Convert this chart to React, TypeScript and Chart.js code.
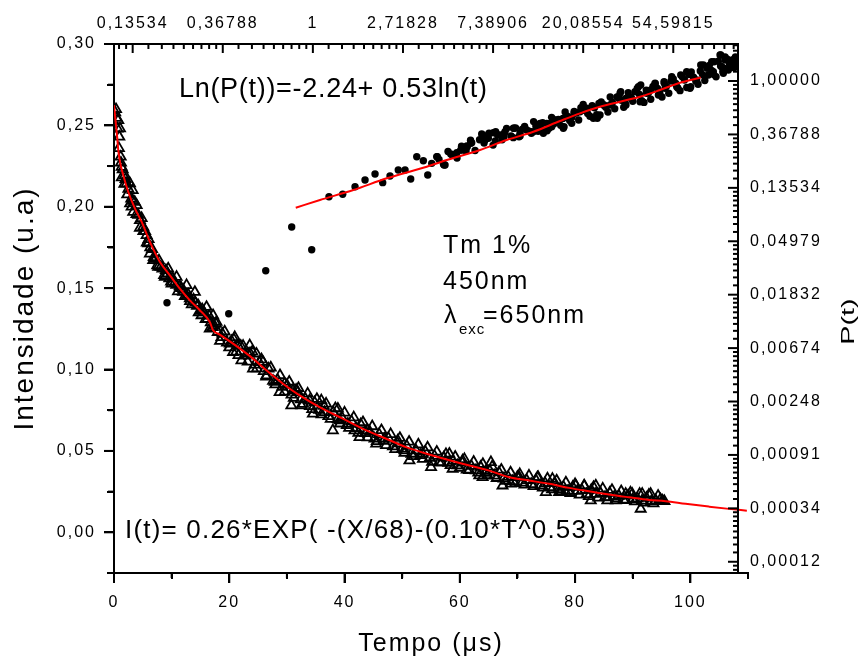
import React, { useEffect, useRef } from 'react';
import { Chart, registerables } from 'chart.js';

Chart.register(...registerables);

const FONT = "'Liberation Sans', Arial, Helvetica, sans-serif";

// ---------- axis ranges ----------
const timeMin = 0;
const timeMax = 110;
const intensityMin = -0.025;
const intensityMax = 0.3;
const lnTimeMin = Math.log(0.11);
const lnTimeMax = Math.log(112);
const lnPMin = Math.log(1e-4);
const lnPMax = Math.log(2);

// ---------- tick labels ----------
const xTickValues = [0, 20, 40, 60, 80, 100];
const xTickLabels = ['0', '20', '40', '60', '80', '100'];
const yTickValues = [0, 0.05, 0.1, 0.15, 0.2, 0.25, 0.3];
const yTickLabels = ['0,00', '0,05', '0,10', '0,15', '0,20', '0,25', '0,30'];
const topTickExps = [-2, -1, 0, 1, 2, 3, 4];
const topTickLabels = ['0,13534', '0,36788', '1', '2,71828', '7,38906', '20,08554', '54,59815'];
const rightTickExps = [0, -1, -2, -3, -4, -5, -6, -7, -8, -9];
const rightTickLabels = ['1,00000', '0,36788', '0,13534', '0,04979', '0,01832', '0,00674', '0,00248', '0,00091', '0,00034', '0,00012'];

// ---------- decay: fitted curve I(t) ----------
const decayFit: [number, number][] = [
  [0, 0.2624], [0.57, 0.242], [0.74, 0.2349], [1.04, 0.2276], [1.61, 0.2194], [2.48, 0.2091], [3.64, 0.1989],
  [4.8, 0.1907], [6.23, 0.1784], [7.97, 0.1661], [9.7, 0.1579], [11.43, 0.1497], [13.16, 0.1425], [14.89, 0.1364],
  [16.62, 0.1292], [17.19, 0.1241], [18.35, 0.1215], [20.66, 0.1159], [24.12, 0.1067], [26.44, 0.0995], [29.32, 0.0913],
  [32.21, 0.0841], [35.67, 0.0769], [39.71, 0.0698], [43.77, 0.0626], [47.22, 0.0575], [50.68, 0.0523], [55.29, 0.0472],
  [61.65, 0.041], [65.11, 0.0379], [68.57, 0.0338], [72.03, 0.0318], [75.5, 0.0298], [78.96, 0.0273], [82.42, 0.0252],
  [85.89, 0.0232], [89.35, 0.0215], [92.81, 0.0199], [95.7, 0.0191], [99.17, 0.0175], [103.2, 0.0158], [106.7, 0.0144],
  [109.8, 0.0133],
];

// ---------- decay: measured points (open triangles) ----------
const decayPoints: [number, number][] = [
  [0.35, 0.2599], [0.74, 0.2532], [1.04, 0.2481], [0.92, 0.243], [1.16, 0.2307], [1.33, 0.2245], [1.9, 0.2194],
  [2.2, 0.2143], [2.77, 0.2143], [3.24, 0.2102], [3.06, 0.2], [3.93, 0.201], [3.34, 0.1968], [4.5, 0.1917],
  [5.07, 0.1876], [5.66, 0.1825], [5.94, 0.1774], [6.23, 0.1712], [6.8, 0.1671], [7.67, 0.163], [9.4, 0.162],
  [8.83, 0.1569], [10.86, 0.1569], [9.99, 0.1528], [12.59, 0.1518], [12.0, 0.1476], [14.03, 0.1476], [13.16, 0.1436],
  [14.6, 0.1395], [16.05, 0.1384], [15.19, 0.1333], [17.19, 0.1333], [17.78, 0.1292], [16.62, 0.1251],
  [18.65, 0.1199], [20.95, 0.1199], [20.09, 0.1159], [21.52, 0.1148], [20.66, 0.1107], [22.11, 0.1056], [23.55, 0.1148],
  [23.26, 0.1097], [24.71, 0.1097], [24.12, 0.1005], [25.85, 0.1046], [26.44, 0.0964], [27.88, 0.0923], [29.61, 0.0913],
  [28.74, 0.0861], [31.05, 0.0872], [31.91, 0.0861], [30.77, 0.0779], [32.5, 0.0779], [33.94, 0.081], [34.51, 0.0728],
  [35.97, 0.081], [36.54, 0.0738], [37.97, 0.0626], [38.84, 0.0759], [39.13, 0.0687], [40.57, 0.0667], [41.73, 0.0626],
  [42.6, 0.0584], [44.03, 0.0626], [45.49, 0.0544], [46.93, 0.0574], [49.23, 0.0564], [50.39, 0.0503], [51.26, 0.0441],
  [53.56, 0.0482], [55.01, 0.04], [58.18, 0.0482], [58.75, 0.039], [60.48, 0.0441], [63.38, 0.0349], [64.54, 0.0369],
  [65.4, 0.0431], [63.95, 0.0338], [67.41, 0.0287], [68.87, 0.0298], [70.3, 0.0338], [73.47, 0.0338], [74.93, 0.0246],
  [76.07, 0.0328], [77.23, 0.0246], [78.39, 0.0246], [80.12, 0.0287], [81.56, 0.0287], [82.72, 0.0195], [83.59, 0.0287],
  [85.59, 0.0195], [87.05, 0.0195], [88.78, 0.0236], [89.92, 0.0236], [91.65, 0.0236], [91.38, 0.0144], [93.11, 0.0236],
  [95.11, 0.0195],
  [0.2, 0.258], [0.6, 0.248], [1.2, 0.227], [1.5, 0.223], [2.0, 0.217], [2.5, 0.211], [3.0, 0.205], [3.6, 0.203],
  [4.2, 0.195], [4.8, 0.193], [5.4, 0.185], [6.0, 0.18], [6.6, 0.174], [7.2, 0.168], [7.8, 0.167], [8.4, 0.162],
  [9.0, 0.161], [9.6, 0.156], [10.2, 0.156], [10.8, 0.152], [11.4, 0.151], [12.0, 0.149], [12.6, 0.145], [13.2, 0.142],
  [13.8, 0.143], [14.4, 0.139], [15.0, 0.136], [15.6, 0.135], [16.2, 0.131], [16.8, 0.129], [17.4, 0.127], [18.0, 0.123],
  [0.45, 0.2545], [0.85, 0.236], [1.35, 0.218], [1.8, 0.214], [2.3, 0.2075], [2.8, 0.202], [3.3, 0.2035], [3.9, 0.1955],
  [4.5, 0.187], [5.1, 0.185], [5.7, 0.178], [6.3, 0.175], [6.9, 0.169], [7.5, 0.164], [8.1, 0.163], [8.7, 0.158],
  [9.3, 0.159], [9.9, 0.154], [10.5, 0.153], [11.1, 0.148], [11.7, 0.15], [12.3, 0.145], [12.9, 0.146], [13.5, 0.14],
  [14.1, 0.141], [14.7, 0.135], [15.3, 0.137], [15.9, 0.131], [16.5, 0.133], [17.1, 0.126], [17.7, 0.128],
  [18.8, 0.122], [19.6, 0.1165], [20.4, 0.1175], [21.2, 0.111], [22.0, 0.1145], [22.8, 0.1085], [23.6, 0.11], [24.4, 0.103],
  [25.2, 0.1045], [26.0, 0.099], [26.8, 0.1005], [27.6, 0.093], [28.4, 0.0935], [29.2, 0.0893], [30.0, 0.0905], [30.8, 0.0845],
  [31.6, 0.0875], [32.4, 0.0816], [33.2, 0.082], [34.0, 0.0775], [34.8, 0.0798], [35.6, 0.0751], [36.4, 0.0777], [37.2, 0.0713],
  [38.0, 0.0739], [38.8, 0.0695], [39.6, 0.0702], [40.4, 0.0658], [41.2, 0.0683], [42.0, 0.0639], [42.8, 0.0664], [43.6, 0.0609],
  [44.4, 0.0617], [45.2, 0.0575], [46.0, 0.0603], [46.8, 0.0561], [47.6, 0.0579], [48.4, 0.0527], [49.2, 0.0546], [50.0, 0.0513],
  [50.8, 0.0531], [51.6, 0.0482], [52.4, 0.0503], [53.2, 0.0474], [54.0, 0.0496], [54.8, 0.0457], [55.6, 0.0469], [56.4, 0.0431],
  [57.2, 0.0459], [58.0, 0.0426], [58.8, 0.0438], [59.6, 0.041], [60.4, 0.0428], [61.2, 0.0385], [62.0, 0.0407], [62.8, 0.038],
  [63.6, 0.0402], [64.4, 0.0365], [65.2, 0.0378], [66.0, 0.0348], [66.8, 0.0368], [67.6, 0.0329], [68.4, 0.034], [69.2, 0.0314],
  [70.0, 0.034], [70.8, 0.0305], [71.6, 0.032], [72.4, 0.0296], [73.2, 0.0321], [74.0, 0.0287], [74.8, 0.0302], [75.6, 0.0277],
  [76.4, 0.0301], [77.2, 0.0265], [78.0, 0.0279], [78.8, 0.0254], [79.6, 0.0279], [80.4, 0.0254], [81.2, 0.0259], [82.0, 0.0234],
  [82.8, 0.026], [83.6, 0.0235], [84.4, 0.0241], [85.2, 0.0216], [86.0, 0.0242], [86.8, 0.0218], [87.6, 0.0224], [88.4, 0.02],
  [89.2, 0.0226], [90.0, 0.0202], [90.8, 0.0208], [91.6, 0.0194], [92.4, 0.0211], [93.2, 0.0189], [94.0, 0.0196], [94.8, 0.0203],
  [95.5, 0.0191],
  [18.4, 0.1175], [19.2, 0.1233], [20.0, 0.1135], [20.8, 0.1185], [21.6, 0.1088], [22.4, 0.1145], [23.2, 0.1048], [24.0, 0.111],
  [24.8, 0.1007], [25.6, 0.1062], [26.4, 0.0956], [27.2, 0.1012], [28.0, 0.0908], [28.8, 0.0965], [29.6, 0.0863], [30.4, 0.0925],
  [31.2, 0.0825], [32.0, 0.0886], [32.8, 0.0788], [33.6, 0.0852], [34.4, 0.0756], [35.2, 0.0819], [36.0, 0.0724], [36.8, 0.079],
  [37.6, 0.0696], [38.4, 0.0762], [39.2, 0.0668], [40.0, 0.0735], [40.8, 0.0641], [41.6, 0.0706], [42.4, 0.0611], [43.2, 0.0676],
  [44.0, 0.0583], [44.8, 0.0651], [45.6, 0.0559], [46.4, 0.0627], [47.2, 0.0535], [48.0, 0.0603], [48.8, 0.0511], [49.6, 0.0579],
  [50.4, 0.0487], [51.2, 0.0556], [52.0, 0.0468], [52.8, 0.0539], [53.6, 0.045], [54.4, 0.0521], [55.2, 0.0433], [56.0, 0.0495],
  [56.8, 0.0427], [57.6, 0.048], [58.4, 0.0412], [59.2, 0.0464], [60.0, 0.0396], [60.8, 0.0449], [61.6, 0.0381], [62.4, 0.0433],
  [63.2, 0.0366], [64.0, 0.0419], [64.8, 0.0351], [65.6, 0.0403], [66.4, 0.0333], [67.2, 0.0384], [68.0, 0.0315], [68.8, 0.0367],
  [69.6, 0.0302], [70.4, 0.0357], [71.2, 0.0292], [72.0, 0.0348], [72.8, 0.0283], [73.6, 0.0339], [74.4, 0.0274], [75.2, 0.033],
  [76.0, 0.0264], [76.8, 0.0318], [77.6, 0.0252], [78.4, 0.0306], [79.2, 0.0241], [80.0, 0.0296], [80.8, 0.0231], [81.6, 0.0286],
  [82.4, 0.0222], [83.2, 0.0277], [84.0, 0.0213], [84.8, 0.0268], [85.6, 0.0214], [86.4, 0.026], [87.2, 0.0206], [88.0, 0.0252],
  [88.8, 0.0198], [89.6, 0.0244], [90.4, 0.019], [91.2, 0.0236], [92.0, 0.0182], [92.8, 0.023], [93.6, 0.0177], [94.4, 0.0224],
  [95.2, 0.0192],
];

// ---------- P(t): linear fit in (ln t, ln P) ----------
const pFit: [number, number][] = [
  [-0.19, -2.372], [0.079, -2.228], [0.449, -2.04], [0.82, -1.821], [1.264, -1.604], [1.486, -1.479], [1.855, -1.292],
  [2.151, -1.104], [2.447, -0.949], [2.743, -0.749], [2.965, -0.605], [3.187, -0.481], [3.409, -0.387], [3.631, -0.294],
  [3.853, -0.168], [4.075, -0.032], [4.305, 0.066],
];

// ---------- P(t): points in (ln t, ln P) ----------
const pPoints: [number, number][] = [
  [-1.619, -4.15], [-0.934, -4.356], [-0.523, -3.551], [-0.235, -2.733], [-0.013, -3.158], [0.179, -2.166], [0.331, -2.121],
  [0.468, -1.979], [0.579, -1.853], [0.69, -1.741], [0.775, -1.903], [0.856, -1.778], [0.948, -1.666], [1.023, -1.666],
  [1.086, -1.835], [1.153, -1.417], [1.226, -1.492], [1.275, -1.76], [1.319, -1.541], [1.375, -1.417], [1.467, -1.572],
  [1.53, -1.367], [1.597, -1.342], [1.652, -1.292], [1.708, -1.217], [1.763, -1.155], [1.874, -0.992], [1.911, -1.104],
  [2.003, -0.968], [1.948, -1.073], [2.077, -1.011], [2.133, -0.949], [2.225, -0.885], [2.299, -0.979], [2.373, -0.917],
  [2.447, -0.949], [2.521, -0.792], [2.558, -0.979], [2.651, -0.855], [2.707, -0.762],
  [2.595, -0.792], [2.688, -0.73], [2.78, -0.885], [2.873, -0.792], [2.965, -0.575], [3.039, -0.511], [3.113, -0.698],
  [3.187, -0.636], [3.298, -0.449], [3.409, -0.23], [3.465, -0.387], [3.539, -0.324], [3.613, -0.107], [3.631, -0.387],
  [3.705, -0.23], [3.798, -0.043], [3.835, -0.262], [3.909, -0.137], [3.983, 0.08], [4.038, -0.107], [4.149, 0.174],
  [4.186, -0.137], [4.26, 0.019], [4.334, 0.3], [4.39, 0.112], [4.427, 0.361], [4.445, 0.174], [4.519, 0.487],
  [4.538, 0.268], [4.556, 0.144], [4.575, 0.393], [4.612, 0.206],
  [1.381, -1.417], [1.456, -1.572], [1.548, -1.385], [1.641, -1.292], [1.714, -1.23], [1.752, -1.166], [1.881, -1.011],
  [1.955, -0.979], [2.029, -0.949], [2.121, -1.043], [2.233, -0.885], [2.288, -1.043], [2.418, -0.949], [2.529, -0.824],
  [2.621, -0.885], [2.676, -0.73], [2.788, -0.855], [2.899, -0.605], [2.991, -0.543], [3.157, -0.698], [3.231, -0.449],
  [3.417, -0.2], [3.472, -0.324], [3.639, -0.075], [3.75, -0.168], [3.898, -0.013], [4.083, 0.112], [4.194, -0.107],
  [4.305, 0.3], [4.452, 0.361], [4.527, 0.487], [4.563, 0.238],
  [1.4, -1.47], [1.45, -1.56], [1.5, -1.32], [1.55, -1.38], [1.6, -1.44], [1.65, -1.22], [1.7, -1.31], [1.75, -1.11],
  [1.8, -1.3], [1.85, -1.1], [1.9, -1.16], [1.95, -1.0], [2.0, -1.2], [2.05, -1.01], [2.1, -1.1], [2.15, -0.89],
  [2.2, -1.03], [2.25, -0.88], [2.3, -1.03], [2.35, -0.85], [2.4, -0.94], [2.45, -0.76], [2.5, -0.94], [2.55, -0.78],
  [2.6, -0.93], [2.65, -0.68], [2.7, -0.75], [2.75, -0.83], [2.8, -0.58], [2.85, -0.74], [2.9, -0.57], [2.95, -0.73],
  [3.0, -0.44], [3.05, -0.61], [3.1, -0.46], [3.15, -0.63], [3.2, -0.39], [3.25, -0.49], [3.3, -0.3], [3.35, -0.52],
  [3.4, -0.33], [3.45, -0.49], [3.5, -0.22], [3.55, -0.38], [3.6, -0.14], [3.65, -0.37], [3.7, -0.17], [3.75, -0.34],
  [3.8, -0.05], [3.85, -0.22], [3.9, -0.04], [3.95, -0.23], [4.0, 0.04], [4.05, -0.13], [4.1, 0.08], [4.15, -0.12],
  [4.2, 0.17], [4.25, 0.0], [4.3, 0.19], [4.35, 0.01], [4.4, 0.29], [4.45, 0.12], [4.5, 0.37], [4.55, 0.18],
  [4.6, 0.41], [4.63, 0.28], [4.66, 0.4], [4.7, 0.33],
  [2.525, -0.86], [2.625, -0.8], [2.725, -0.72], [2.825, -0.66], [2.925, -0.6],
  [3.025, -0.55], [3.125, -0.5], [3.225, -0.45], [3.325, -0.4], [3.425, -0.36], [3.525, -0.3], [3.625, -0.25],
  [3.725, -0.22], [3.825, -0.14], [3.925, -0.1], [4.025, -0.04], [4.125, 0.02], [4.225, 0.07], [4.325, 0.12],
  [4.425, 0.2], [4.525, 0.28], [4.625, 0.32],
  [2.975, -0.5], [3.075, -0.66], [3.175, -0.42], [3.275, -0.58], [3.375, -0.3], [3.475, -0.45], [3.575, -0.2],
  [3.675, -0.4], [3.775, -0.1], [3.875, -0.3], [3.975, 0.0], [4.075, -0.18], [4.175, 0.12], [4.275, -0.06],
  [4.375, 0.24], [4.475, 0.08], [4.575, 0.45], [4.675, 0.25], [4.69, 0.45],
  [2.025, -1.12], [2.125, -0.98], [2.225, -1.06], [2.325, -0.9], [2.425, -0.98], [2.475, -0.84], [2.575, -0.92],
  [2.675, -0.8], [2.775, -0.7], [2.875, -0.68],
];

// ---------- helpers ----------
function labelFor(v: number, values: number[], labels: string[]): string {
  for (let i = 0; i < values.length; i++) {
    if (Math.abs(values[i] - v) < 1e-6) return labels[i];
  }
  return '';
}

// e-based log axis: majors at integer ln values, 8 minors (linear subdivisions) between
function eTicks(min: number, max: number): number[] {
  const out: number[] = [];
  for (let k = Math.floor(min) - 1; k <= Math.ceil(max); k++) {
    for (let i = 0; i < 9; i++) {
      const v = k + Math.log(1 + (i * (Math.E - 1)) / 9);
      if (v >= min - 1e-9 && v <= max + 1e-9) out.push(v);
    }
  }
  return out;
}

function stepTicks(min: number, max: number, step: number): number[] {
  const out: number[] = [];
  const n = Math.round((max - min) / step);
  for (let i = 0; i <= n; i++) out.push(min + i * step);
  return out;
}

const isMultiple = (v: number, step: number) => Math.abs(v / step - Math.round(v / step)) < 1e-6;

// Tick marks drawn as Chart.js 'dash' points sitting on the axis line,
// rotated to point outward (decay axes) or inward (P(t) axes).
function tickMarks(points: { x: number; y: number }[], rotation: number, key: 'x' | 'y', step: number, major: number, minor: number) {
  return {
    data: points,
    showLine: false,
    clip: false,
    pointStyle: 'dash',
    pointRotation: rotation,
    pointRadius: (c: any) => (c && c.raw && isMultiple(c.raw[key], step) ? major : minor),
    pointBorderWidth: 2,
    pointBorderColor: '#000',
    pointBackgroundColor: '#000',
    borderColor: '#000',
    borderWidth: 2,
  } as any;
}

// Chart.js native outward tick marks (minor ones shortened by a dash pattern)
function tickDash(step: number, minorDash: number[]) {
  return (c: any) => {
    if (!c || !c.tick) return [];
    return isMultiple(c.tick.value, step) ? [] : minorDash;
  };
}

function outwardGrid(step: number, minorDash: number[]) {
  return {
    display: true,
    drawOnChartArea: false,
    drawTicks: true,
    tickLength: 10,
    tickWidth: 2,
    tickColor: '#000',
    lineWidth: 2,
    color: 'rgba(0,0,0,0)',
    tickBorderDash: tickDash(step, minorDash),
  };
}

function drawLabel(ctx: any, text: string, x: number, y: number, size: number, spacing: number) {
  ctx.font = `${size}px ${FONT}`;
  ctx.letterSpacing = `${spacing}px`;
  ctx.fillText(text, x, y);
}

const spacing = {
  beforeUpdate(chart: any) { chart.ctx.letterSpacing = '2px'; },
  beforeLayout(chart: any) { chart.ctx.letterSpacing = '2px'; },
  beforeDraw(chart: any) { chart.ctx.letterSpacing = '2px'; },
};

const decayDecor = { id: 'decayDecor', ...spacing };

const probDecor = {
  id: 'probDecor',
  ...spacing,
  afterDraw(chart: any) {
    const ctx = chart.ctx;
    ctx.save();
    ctx.fillStyle = '#000';
    ctx.textAlign = 'left';
    ctx.textBaseline = 'alphabetic';
    drawLabel(ctx, 'Ln(P(t))=-2.24+ 0.53ln(t)', 179, 97, 27, 0.7);
    drawLabel(ctx, 'I(t)= 0.26*EXP( -(X/68)-(0.10*T^0.53))', 125, 538, 26, 1.2);
    drawLabel(ctx, 'Tm 1%', 443, 253, 25, 2);
    drawLabel(ctx, '450nm', 443, 289, 25, 2);
    drawLabel(ctx, 'λ', 444, 323, 25, 0);
    drawLabel(ctx, 'exc', 459, 334, 15, 1);
    drawLabel(ctx, '=650nm', 483, 323, 25, 2);
    // right axis title, reading bottom-to-top
    ctx.translate(849, 321.5);
    ctx.rotate(-Math.PI / 2);
    ctx.scale(1.6, 1);
    ctx.textAlign = 'center';
    ctx.textBaseline = 'middle';
    ctx.font = `18px ${FONT}`;
    ctx.letterSpacing = '0px';
    ctx.fillText('P(t)', 0, 0);
    ctx.restore();
  },
};

const tickFont = { family: FONT, size: 16 };

export default function App() {
  const decayRef = useRef<HTMLCanvasElement | null>(null);
  const probRef = useRef<HTMLCanvasElement | null>(null);

  useEffect(() => {
    if (!decayRef.current || !probRef.current) return;

    const decayChart = new Chart(decayRef.current, {
      type: 'scatter',
      data: {
        datasets: [
          {
            data: decayFit.map(([x, y]) => ({ x, y })),
            showLine: true,
            borderColor: '#ff0000',
            borderWidth: 2,
            pointRadius: 0,
            cubicInterpolationMode: 'monotone',
            fill: false,
          } as any,
          {
            data: decayPoints.map(([x, y]) => ({ x, y })),
            showLine: false,
            pointStyle: 'triangle',
            pointRadius: 5.8,
            borderColor: '#000',
            backgroundColor: 'rgba(0,0,0,0)',
            borderWidth: 1.8,
          } as any,
          tickMarks(stepTicks(timeMin, timeMax, 10).map((v) => ({ x: v, y: intensityMin })), 90, 'x', 20, 10, 5),
          tickMarks(stepTicks(intensityMin, intensityMax, 0.025).map((v) => ({ x: timeMin, y: v })), 180, 'y', 0.05, 10, 6),
        ],
      },
      options: {
        responsive: false,
        animation: false,
        devicePixelRatio: 1,
        events: [],
        layout: { padding: { left: 0, top: 44, right: 120, bottom: 0 } },
        plugins: { legend: { display: false }, tooltip: { enabled: false } },
        scales: {
          x: {
            type: 'linear',
            position: 'bottom',
            min: timeMin,
            max: timeMax,
            grid: outwardGrid(20, [5, 100]),
            border: { display: true, color: '#000', width: 2 },
            ticks: {
              stepSize: 10,
              autoSkip: false,
              maxRotation: 0,
              minRotation: 0,
              padding: 10,
              color: '#000',
              font: tickFont,
              callback: (v: any) => labelFor(Number(v), xTickValues, xTickLabels),
            },
            title: {
              display: true,
              text: 'Tempo (μs)',
              color: '#000',
              font: { family: FONT, size: 25 },
              padding: { top: 0, bottom: 2 },
            },
            afterFit: (s: any) => { s.height = 88; },
          },
          y: {
            type: 'linear',
            position: 'left',
            min: intensityMin,
            max: intensityMax,
            grid: outwardGrid(0.05, [0, 3, 6, 100]),
            border: { display: true, color: '#000', width: 2 },
            ticks: {
              stepSize: 0.025,
              autoSkip: false,
              padding: 8,
              color: '#000',
              font: tickFont,
              callback: (v: any) => labelFor(Number(v), yTickValues, yTickLabels),
            },
            title: {
              display: true,
              text: 'Intensidade (u.a)',
              color: '#000',
              font: { family: FONT, size: 28 },
              padding: { top: 8, bottom: 0 },
            },
            afterFit: (s: any) => { s.width = 114; },
          },
        },
      } as any,
      plugins: [decayDecor],
    });

    const probChart = new Chart(probRef.current, {
      type: 'scatter',
      data: {
        datasets: [
          {
            data: pFit.map(([x, y]) => ({ x, y })),
            showLine: true,
            borderColor: '#ff0000',
            borderWidth: 2,
            pointRadius: 0,
            cubicInterpolationMode: 'monotone',
            fill: false,
          } as any,
          {
            data: pPoints.map(([x, y]) => ({ x, y })),
            showLine: false,
            pointStyle: 'circle',
            pointRadius: 3.7,
            borderWidth: 0,
            backgroundColor: '#000',
            borderColor: '#000',
          } as any,
          tickMarks(eTicks(lnTimeMin, lnTimeMax).map((v) => ({ x: v, y: lnPMax })), 90, 'x', 1, 9, 5),
          tickMarks(eTicks(lnPMin, lnPMax).map((v) => ({ x: lnTimeMax, y: v })), 180, 'y', 1, 10, 5),
        ],
      },
      options: {
        responsive: false,
        animation: false,
        devicePixelRatio: 1,
        events: [],
        layout: { padding: { left: 114, top: 0, right: 0, bottom: 88 } },
        plugins: { legend: { display: false }, tooltip: { enabled: false } },
        scales: {
          x: {
            type: 'linear',
            position: 'top',
            min: lnTimeMin,
            max: lnTimeMax,
            afterBuildTicks: (s: any) => { s.ticks = eTicks(lnTimeMin, lnTimeMax).map((value) => ({ value })); },
            grid: { display: false, drawTicks: false },
            border: { display: true, color: '#000', width: 2 },
            ticks: {
              autoSkip: false,
              maxRotation: 0,
              minRotation: 0,
              padding: 10.5,
              color: '#000',
              font: tickFont,
              callback: (v: any) => labelFor(Number(v), topTickExps, topTickLabels),
            },
            afterFit: (s: any) => { s.height = 44; },
          },
          y: {
            type: 'linear',
            position: 'right',
            min: lnPMin,
            max: lnPMax,
            afterBuildTicks: (s: any) => { s.ticks = eTicks(lnPMin, lnPMax).map((value) => ({ value })); },
            grid: { display: false, drawTicks: false },
            border: { display: true, color: '#000', width: 2 },
            ticks: {
              autoSkip: false,
              padding: 12,
              color: '#000',
              font: tickFont,
              callback: (v: any) => labelFor(Number(v), rightTickExps, rightTickLabels),
            },
            afterFit: (s: any) => { s.width = 130; },
          },
        },
      } as any,
      plugins: [probDecor],
    });

    return () => {
      decayChart.destroy();
      probChart.destroy();
    };
  }, []);

  const layer = { position: 'absolute' as const, left: 0, top: 0, width: 868, height: 661 };

  return (
    <div style={{ position: 'absolute', left: 0, top: 0, width: 868, height: 661, background: '#ffffff' }}>
      <canvas ref={decayRef} width={868} height={661} style={layer} />
      <canvas ref={probRef} width={868} height={661} style={layer} />
    </div>
  );
}
